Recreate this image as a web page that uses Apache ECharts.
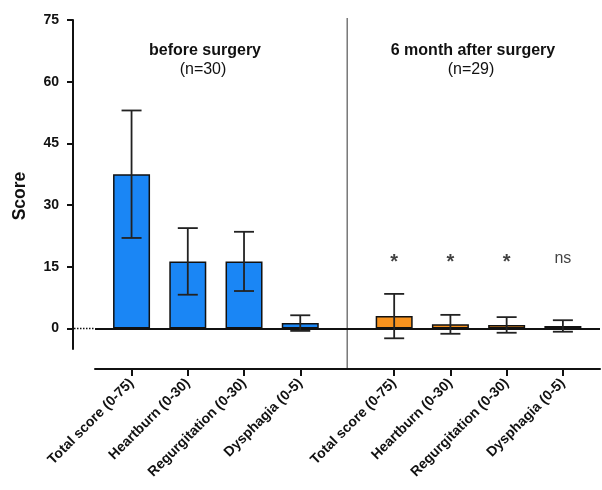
<!DOCTYPE html>
<html>
<head>
<meta charset="utf-8">
<script src="https://cdn.jsdelivr.net/npm/echarts@6/dist/echarts.min.js"></script>
<style>html,body{margin:0;padding:0;background:#fff;}#main{width:602px;height:490px;}</style>
</head>
<body>
<div id="main"></div>
<script>
// ---- data ----
const categories = ['Total score (0-75)', 'Heartburn (0-30)', 'Regurgitation (0-30)', 'Dysphagia (0-5)'];
const beforeMean = [37.5, 16.3, 16.3, 1.3];
const beforeSD = [15.5, 8.1, 7.2, 1.9];
const afterMean = [3.0, 1.0, 0.85, 0.6];
const afterSD = [5.4, 2.3, 1.9, 1.4];
const significance = ['*', '*', '*', 'ns'];
const groupTitles = ['before surgery', '6 month after surgery'];
const groupN = ['(n=30)', '(n=29)'];
const yTicks = [0, 15, 30, 45, 60, 75];

// ---- layout helpers ----
const FONT = '"Liberation Sans", Arial, Helvetica, sans-serif';
const GAP = 1.67;
const xBefore = categories.map((_, i) => i);
const xAfter = categories.map((_, i) => i + 3 + GAP);
const tickPos = xBefore.concat(xAfter);
const tickLabels = categories.concat(categories);
const sigLevel = 16.5;

function labelFor(v) {
  let best = 0, d = Infinity;
  tickPos.forEach((p, i) => { const dd = Math.abs(p - v); if (dd < d) { d = dd; best = i; } });
  return tickLabels[best];
}

const barData = [];
xBefore.forEach((x, i) => barData.push({ value: [x, beforeMean[i]], itemStyle: { color: '#1a86f5' } }));
xAfter.forEach((x, i) => barData.push({ value: [x, afterMean[i]], itemStyle: { color: '#f7921e' } }));
const errData = [];
xBefore.forEach((x, i) => errData.push([x, beforeMean[i], beforeSD[i]]));
xAfter.forEach((x, i) => errData.push([x, afterMean[i], afterSD[i]]));

const chart = echarts.init(document.getElementById('main'));
chart.setOption({
  animation: false,
  backgroundColor: '#fff',
  textStyle: { fontFamily: FONT },
  grid: { left: 95, right: 2, top: 20, bottom: 141, containLabel: false },
  xAxis: {
    type: 'value', min: -0.65, max: 8.33, offset: 20,
    axisLine: { show: true, onZero: false, lineStyle: { color: '#111', width: 2 } },
    axisTick: { show: true, customValues: tickPos, length: 7, lineStyle: { color: '#111', width: 2 } },
    axisLabel: { customValues: tickPos, rotate: 45, formatter: labelFor, fontWeight: 'bold', fontSize: 14, color: '#111', margin: 12, fontFamily: FONT },
    splitLine: { show: false }
  },
  yAxis: {
    type: 'value', min: -5, max: 75, offset: 22,
    axisLine: { show: true, onZero: false, lineStyle: { color: '#111', width: 2 } },
    axisTick: { show: true, customValues: yTicks, length: 6, lineStyle: { color: '#111', width: 2 } },
    axisLabel: { customValues: yTicks, fontWeight: 'bold', fontSize: 14, color: '#111', margin: 14, fontFamily: FONT },
    splitLine: { show: false }
  },
  series: [
    {
      type: 'bar', data: barData, barWidth: 37,
      itemStyle: { borderColor: '#111', borderWidth: 1.5 },
      markLine: {
        silent: true, symbol: 'none', label: { show: false },
        lineStyle: { color: '#111', width: 2, type: 'solid' },
        data: [{ yAxis: 0 }]
      },
      z: 2
    },
    {
      type: 'custom', data: errData, z: 5,
      renderItem: function (params, api) {
        const x = api.value(0), m = api.value(1), s = api.value(2);
        const top = api.coord([x, m + s]);
        const bot = api.coord([x, m - s]);
        const h = 10;
        const st = { stroke: '#222', lineWidth: 1.8 };
        return {
          type: 'group', children: [
            { type: 'line', shape: { x1: top[0], y1: top[1], x2: bot[0], y2: bot[1] }, style: st },
            { type: 'line', shape: { x1: top[0] - h, y1: top[1], x2: top[0] + h, y2: top[1] }, style: st },
            { type: 'line', shape: { x1: bot[0] - h, y1: bot[1], x2: bot[0] + h, y2: bot[1] }, style: st }
          ]
        };
      }
    },
    {
      type: 'scatter', symbolSize: 0, z: 6,
      data: xAfter.map((x, i) => ({
        value: [x, sigLevel],
        label: significance[i] === 'ns'
          ? { show: true, position: 'inside', formatter: 'ns', fontSize: 16, color: '#111', fontFamily: FONT, offset: [0, -2] }
          : { show: true, position: 'inside', formatter: '*', fontSize: 20, fontWeight: 'bold', color: '#111', fontFamily: FONT, offset: [0, 2] }
      }))
    }
  ]
});

// decorations positioned through the library's scales
const p0 = chart.convertToPixel({ gridIndex: 0 }, [-0.65, 0]);
const sepX = chart.convertToPixel({ gridIndex: 0 }, [(xBefore[3] + xAfter[0]) / 2, 75])[0];
const topY = chart.convertToPixel({ gridIndex: 0 }, [0, 75])[1];
const botY = chart.convertToPixel({ gridIndex: 0 }, [0, -5])[1] + 20;
chart.setOption({
  graphic: [
    { type: 'line', shape: { x1: 74, y1: p0[1], x2: p0[0], y2: p0[1] }, style: { stroke: '#111', lineWidth: 1.5, lineDash: [1.5, 1.5] } },
    { type: 'line', shape: { x1: sepX, y1: topY - 2, x2: sepX, y2: botY }, style: { stroke: '#777', lineWidth: 1.5 } },
    { type: 'text', x: 20, y: 196, rotation: Math.PI / 2, style: { text: 'Score', font: 'bold 17.5px ' + FONT, fill: '#111', textAlign: 'center', textVerticalAlign: 'middle' } },
    { type: 'text', x: 205, y: 51, style: { text: groupTitles[0], font: 'bold 16px ' + FONT, fill: '#111', textAlign: 'center', textVerticalAlign: 'middle' } },
    { type: 'text', x: 203, y: 70, style: { text: groupN[0], font: '16px ' + FONT, fill: '#111', textAlign: 'center', textVerticalAlign: 'middle' } },
    { type: 'text', x: 473, y: 51, style: { text: groupTitles[1], font: 'bold 16px ' + FONT, fill: '#111', textAlign: 'center', textVerticalAlign: 'middle' } },
    { type: 'text', x: 471, y: 70, style: { text: groupN[1], font: '16px ' + FONT, fill: '#111', textAlign: 'center', textVerticalAlign: 'middle' } }
  ]
});
</script>
</body>
</html>
